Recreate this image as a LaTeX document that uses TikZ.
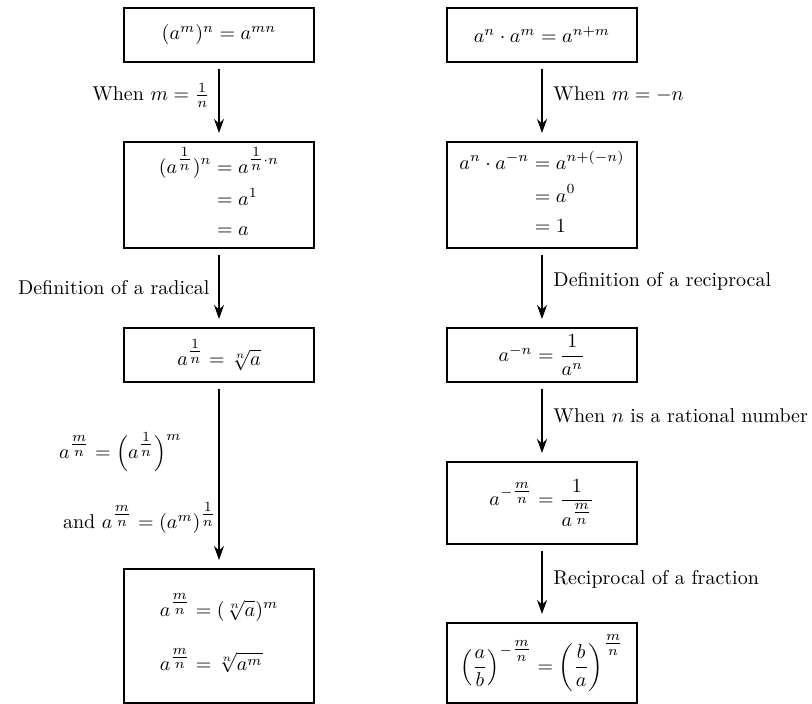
\documentclass[tikz,border=0pt]{standalone}
\usepackage{amsmath,amssymb}
\usetikzlibrary{positioning,arrows.meta}
\newcommand{\efrac}[2]{{\nulldelimiterspace=0pt\genfrac{}{}{}{1}{#1}{#2}}}

\begin{document}
\begin{tikzpicture}[x=0.5pt,y=-0.5pt,
  box/.style={draw,line width=1pt,minimum width=95pt,inner sep=2pt},
  link/.style={-{Stealth[length=7pt,width=5pt]},line width=0.8pt,shorten <=3pt,shorten >=4pt}]
\useasboundingbox (0,0) rectangle (812,704);
% left column: power of a power
\node[box,minimum height=27pt] (powpow) at (219,35) {$(a^m)^n = a^{mn}$};
\node[box,minimum height=53pt] (unitexp) at (219,195) {$\begin{aligned}
  (a^{\efrac1n})^n &= a^{\efrac1n\cdot n}\\ &= a^1\\ &= a\end{aligned}$};
\node[box,minimum height=27pt] (radical) at (219,355) {$a^{\efrac1n} = \sqrt[n]{a}$};
\node[box,minimum height=67pt] (ratexp) at (219,636) {$\begin{aligned}
  a^{\efrac mn} &= (\sqrt[n]{a})^m\\[8pt] a^{\efrac mn} &= \sqrt[n]{a^m}\end{aligned}$};
\draw[link] (powpow) -- (unitexp) node[pos=0.42,left=1pt] {When $m = \frac1n$};
\draw[link] (unitexp) -- (radical) node[midway,left=1pt] {Definition of a radical};
\draw[link] (radical) -- (ratexp);
\node[right] (splitA) at (52,452) {$a^{\efrac mn} = \Bigl(a^{\efrac1n}\Bigr)^m$};
\node[right] (splitB) at (56,518) {and $a^{\efrac mn} = (a^m)^{\efrac1n}$};
% right column: product of powers
\node[box,minimum height=27pt] (prod) at (542,35) {$a^n\cdot a^m = a^{n+m}$};
\node[box,minimum height=53pt] (zeroexp) at (542,195) {$\begin{aligned}
  a^n\cdot a^{-n} &= a^{n+(-n)}\\ &= a^0\\ &= 1\end{aligned}$};
\node[box,minimum height=27pt] (recip) at (542,355) {$a^{-n} = \dfrac{1}{a^n}$};
\node[box,minimum height=41pt] (negrat) at (542,503) {$a^{-\efrac mn} = \dfrac{1}{a^{\efrac mn}}$};
\node[box,minimum height=40pt] (fracexp) at (542,663) {$\left(\dfrac ab\right)^{-\efrac mn} = \left(\dfrac ba\right)^{\efrac mn}$};
\draw[link] (prod) -- (zeroexp) node[pos=0.4,right=2pt] {When $m = -n$};
\draw[link] (zeroexp) -- (recip) node[pos=0.42,right=2pt] {Definition of a reciprocal};
\draw[link] (recip) -- (negrat) node[pos=0.42,right=2pt] {When $n$ is a rational number};
\draw[link] (negrat) -- (fracexp) node[pos=0.45,right=2pt] {Reciprocal of a fraction};
\end{tikzpicture}
\end{document}
